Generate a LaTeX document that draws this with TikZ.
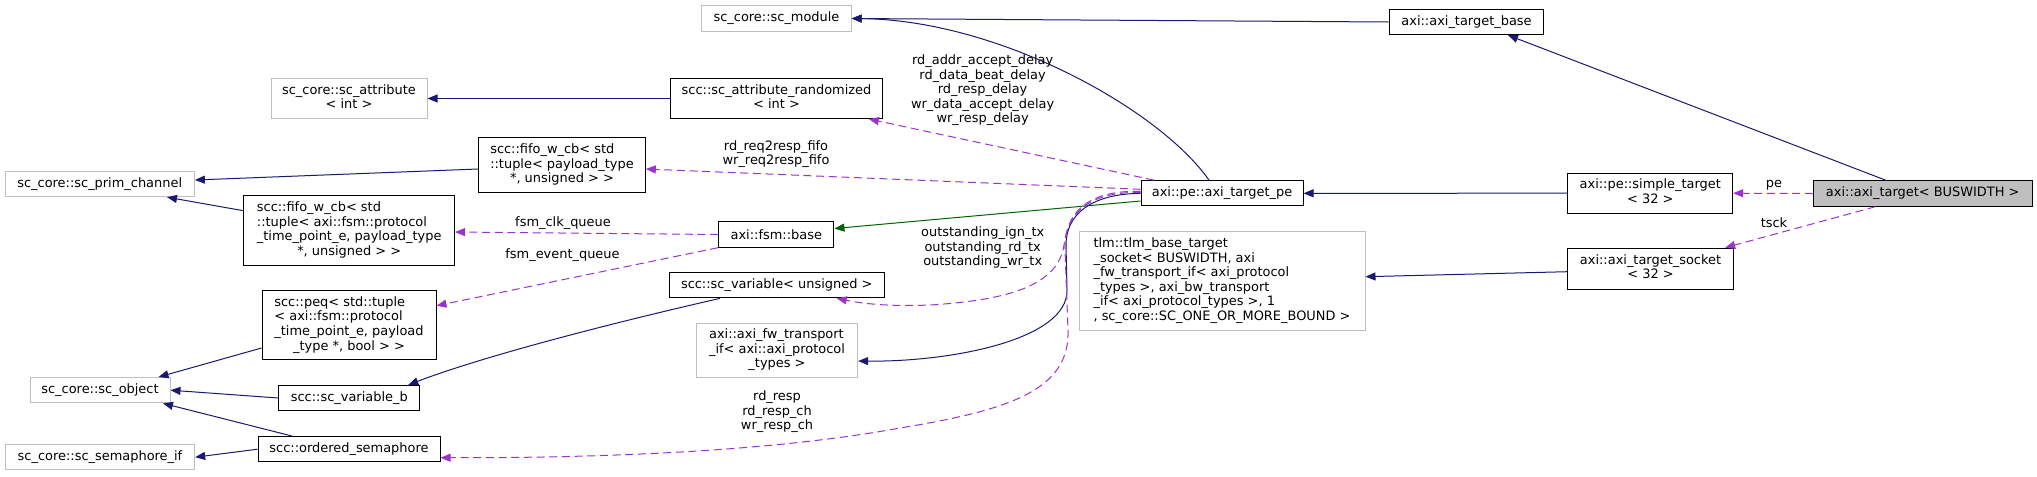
\documentclass[tikz,border=0pt]{standalone}
\usepackage{fontspec}
\setmainfont{DejaVu Sans}
\usetikzlibrary{arrows.meta,calc}
\definecolor{Navy}{HTML}{191970}
\definecolor{Leaf}{HTML}{006400}
\definecolor{Orchid}{HTML}{9A32CD}
\definecolor{Frame}{HTML}{BFBFBF}
\definecolor{Shade}{HTML}{BFBFBF}

% multi-line class names: left lines, last line centred
\newcommand{\cls}[1]{\begin{tabular}{@{}l@{}}#1\end{tabular}}
\newcommand{\ctr}[1]{\multicolumn{1}{@{}c@{}}{#1}}

\begin{document}
\begin{tikzpicture}[x=0.75pt,y=-0.75pt,
    box/.style={draw=black,line width=0.75pt,inner sep=0pt,
      minimum height=19pt,font=\fontsize{9.7}{10.9}\selectfont},
    extbox/.style={box,draw=Frame},
    focus/.style={box,fill=Shade},
    tag/.style={inner sep=0pt,align=center,
      font=\fontsize{9.7}{10.9}\selectfont},
    inh/.style={Navy,line width=0.75pt,
      -{Triangle[length=7.5pt,width=6pt]}},
    prot/.style={inh,Leaf},
    member/.style={Orchid,line width=0.75pt,dash pattern=on 6pt off 3.5pt,
      -{Triangle[length=7.5pt,width=6pt]}}]
    \useasboundingbox (0,0) rectangle (2037,476);

    % classes
    \node[extbox,minimum width=112pt] (scmod) at (776.5,18.5)
      {sc\_core::sc\_module};
    \node[box,minimum width=116pt] (tbase) at (1466.5,22)
      {axi::axi\_target\_base};
    \node[extbox,minimum width=117pt,minimum height=30pt] (attr) at (349,98.5)
      {\cls{sc\_core::sc\_attribute\\\ctr{< int >}}};
    \node[box,minimum width=159pt,minimum height=30pt] (attrr) at (776.5,98.5)
      {\cls{scc::sc\_attribute\_randomized\\\ctr{< int >}}};
    \node[extbox,minimum width=142pt] (prim) at (99.7,184)
      {sc\_core::sc\_prim\_channel};
    \node[box,minimum width=125pt,minimum height=41pt] (fifoa) at (562,165.2)
      {\cls{scc::fifo\_w\_cb< std\\::tuple< payload\_type\\\ctr{*, unsigned > >}}};
    \node[box,minimum width=158pt,minimum height=52pt] (fifob) at (349.2,230.5)
      {\cls{scc::fifo\_w\_cb< std\\::tuple< axi::fsm::protocol\\\_time\_point\_e, payload\_type\\\ctr{*, unsigned > >}}};
    \node[box,minimum width=86.5pt] (fsm) at (776.3,234.5)
      {axi::fsm::base};
    \node[box,minimum width=161pt] (var) at (776.7,285.2)
      {scc::sc\_variable< unsigned >};
    \node[box,minimum width=130.5pt,minimum height=52pt] (peq) at (349,325.3)
      {\cls{scc::peq< std::tuple\\< axi::fsm::protocol\\\_time\_point\_e, payload\\\ctr{\_type *, bool > >}}};
    \node[extbox,minimum width=105pt] (obj) at (100,390.2)
      {sc\_core::sc\_object};
    \node[box,minimum width=105.5pt] (varb) at (349.3,398)
      {scc::sc\_variable\_b};
    \node[extbox,minimum width=121pt,minimum height=41pt] (fwif) at (777,350.5)
      {\cls{axi::axi\_fw\_transport\\\_if< axi::axi\_protocol\\\ctr{\_types >}}};
    \node[box,minimum width=136.5pt] (sem) at (349,449.2)
      {scc::ordered\_semaphore};
    \node[extbox,minimum width=142pt] (semif) at (100,457.2)
      {sc\_core::sc\_semaphore\_if};
    \node[box,minimum width=121.5pt] (pe) at (1222,193.3)
      {axi::pe::axi\_target\_pe};
    \node[extbox,minimum width=214.5pt,minimum height=74pt] (tlmsock) at (1222,281)
      {\cls{tlm::tlm\_base\_target\\\_socket< BUSWIDTH, axi\\\_fw\_transport\_if< axi\_protocol\\\_types >, axi\_bw\_transport\\\_if< axi\_protocol\_types >, 1\\\ctr{, sc\_core::SC\_ONE\_OR\_MORE\_BOUND >}}};
    \node[box,minimum width=123.5pt,minimum height=30pt] (simple) at (1650.3,193.2)
      {\cls{axi::pe::simple\_target\\\ctr{< 32 >}}};
    \node[box,minimum width=124pt,minimum height=31pt] (tsock) at (1650.5,268.8)
      {\cls{axi::axi\_target\_socket\\\ctr{< 32 >}}};
    \node[focus,minimum width=164pt] (top) at (1922.7,193.5)
      {axi::axi\_target< BUSWIDTH >};

    % inheritance
    \draw[inh] (tbase.west) -- (scmod.east);
    \draw[inh] ($(pe.north)+(-13,0)$) .. controls (1160,110) and (1000,20) .. (scmod.east);
    \draw[inh] ($(top.north)+(-36.7,0)$) -- ($(tbase.south)+(41.5,0)$);
    \draw[inh] (attrr.west) -- (attr.east);
    \draw[inh] ($(fifoa.west)+(0,3.8)$) -- ($(prim.east)+(0,-4)$);
    \draw[inh] ($(fifob.west)+(0,-19.8)$) -- ($(prim.south)+(67.3,0)$);
    \draw[prot] ($(pe.west)+(0,7.7)$) -- ($(fsm.east)+(0,-6)$);
    \draw[inh] ($(peq.west)+(0,22.7)$) -- ($(obj.north)+(58.5,0)$);
    \draw[inh] (varb.west) -- (obj.east);
    \draw[inh] ($(sem.north)+(-57,0)$) -- ($(obj.south)+(63,0)$);
    \draw[inh] (sem.west) -- (semif.east);
    \draw[inh] ($(var.south)+(-56.7,0)$) .. controls (660,312) and (500,350) .. ($(varb.north)+(59,0)$);
    \draw[inh] (pe.west) .. controls (1090,194) and (1066,215) .. (1066,245)
      -- (1067,290) .. controls (1068,340) and (950,362) .. ($(fwif.east)+(0,10.5)$);
    \draw[inh] (simple.west) -- (pe.east);
    \draw[inh] ($(tsock.west)+(0,2.9)$) -- ($(tlmsock.east)+(0,-4.3)$);

    % members
    \draw[member] (top.west) -- (simple.east);
    \draw[member] ($(top.south)+(-47.2,0)$) -- ($(tsock.north east)+(-8.5,0)$);
    \draw[member] ($(pe.north west)+(13.5,0)$) -- ($(attrr.south)+(92.3,0)$);
    \draw[member] ($(pe.west)+(0,-4)$) -- ($(fifoa.east)+(0,3.8)$);
    \draw[member] (fsm.west) -- ($(fifob.east)+(0,1.5)$);
    \draw[member] (fsm.south west) -- ($(peq.east)+(0,-19.6)$);
    \draw[member] ($(pe.west)+(0,-1)$) .. controls (1085,192) and (1068,215) .. (1064,245)
      .. controls (1058,285) and (1010,300) .. (930,305)
      .. controls (880,307) and (855,302) .. ($(var.south)+(60,0)$);
    \draw[member] ($(pe.west)+(0,-2)$) .. controls (1085,190) and (1064,215) .. (1065,250)
      -- (1068,330) .. controls (1070,390) and (1010,410) .. (900,428)
      .. controls (780,450) and (620,458) .. ($(sem.east)+(0,8.5)$);

    % member names
    \node[tag] (lbdelay) at (982.6,90.3)
      {rd\_addr\_accept\_delay\\rd\_data\_beat\_delay\\rd\_resp\_delay\\wr\_data\_accept\_delay\\wr\_resp\_delay};
    \node[tag] (lbfifo) at (776,154) {rd\_req2resp\_fifo\\wr\_req2resp\_fifo};
    \node[tag] (lbclk) at (563,222.7) {fsm\_clk\_queue};
    \node[tag] (lbevent) at (562.5,255) {fsm\_event\_queue};
    \node[tag] (lbouts) at (982.7,247.7)
      {outstanding\_ign\_tx\\outstanding\_rd\_tx\\outstanding\_wr\_tx};
    \node[tag] (lbresp) at (777,411.7) {rd\_resp\\rd\_resp\_ch\\wr\_resp\_ch};
    \node[tag] (lbpe) at (1774,185) {pe};
    \node[tag] (lbtsck) at (1774,222.7) {tsck};
\end{tikzpicture}
\end{document}
